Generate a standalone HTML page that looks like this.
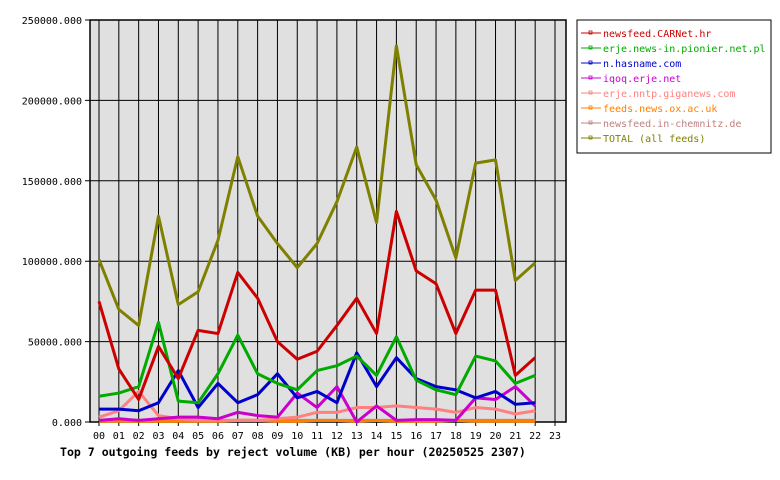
<!DOCTYPE html>
<html><head><meta charset="utf-8"><style>
body{margin:0;background:#fff;}
svg{display:block;font-family:"DejaVu Sans Mono","Liberation Mono",monospace;font-size:10px;}
</style></head><body>
<svg id="c" width="780" height="480"></svg>
<script>
const hours=["00","01","02","03","04","05","06","07","08","09","10","11","12","13","14","15","16","17","18","19","20","21","22","23"];
const yTicks=[0,50000,100000,150000,200000,250000];
const seriesNames=["newsfeed.CARNet.hr","erje.news-in.pionier.net.pl","n.hasname.com","iqoq.erje.net","erje.nntp.giganews.com","feeds.news.ox.ac.uk","newsfeed.in-chemnitz.de","TOTAL (all feeds)"];
const seriesColors=["#cc0000","#00aa00","#0000cc","#cc00cc","#ff8080","#ff8000","#c08080","#808000"];
const carnet=[75,33,14,47,27,57,55,93,77,50,39,44,60,77,55,131,94,86,55,82,82,29,40];
const pionier=[16,18,22,62,13,12,30,54,30,24,20,32,35,41,29,53,26,20,17,41,38,24,29];
const hasname=[8,8,7,12,32,9,24,12,17,30,15,19,12,43,22,40,27,22,20,15,19,11,12];
const iqoq=[1,2,1,2,3,3,2,6,4,3,18,9,22,0,10,1,1.5,1.5,1,15,14,22,10];
const giganews=[3,7,19,4,2,1,1,1,1,2,3,6,6,9,9,10,9,8,6,9,8,5,7];
const oxac=[0.5,0.5,0.5,0.5,0.5,0.5,0.5,1,1,0.5,0.5,1,1,0.5,1,0.5,0.5,0.5,1,0.5,0.5,0.5,0.5];
const chemnitz=[1,1,1,1,1,1,1,1,1,1,1,1,1,1,1,1,1,1,1,1,1,1,1];
const total=[101,70,60,128,73,81,113,165,128,111,96,111,137,171,124,234,160,138,102,161,163,88,99];
const allSeries=[carnet,pionier,hasname,iqoq,giganews,oxac,chemnitz,total];
const NS="http://www.w3.org/2000/svg";
const svg=document.getElementById('c');
const L=90,R=566,T=20,B=422;
const x=i=>99+i*(555-99)/23;
const y=v=>B-(v/250000)*(B-T);
function mk(t,a,p){const e=document.createElementNS(NS,t);for(const k in a)e.setAttribute(k,a[k]);(p||svg).appendChild(e);return e;}
const bg=mk('rect',{x:L,y:T,width:R-L,height:B-T,fill:'#e0e0e0'});


const grid=mk('g',{stroke:'#000','stroke-width':1});


hours.forEach((h,i)=>{mk('line',{x1:x(i),x2:x(i),y1:T,y2:B+4},grid);
 const t=mk('text',{x:x(i),y:439,'text-anchor':'middle',fill:'#000'});t.textContent=h;
 
 });
yTicks.forEach(v=>{mk('line',{x1:L-5,x2:R,y1:y(v),y2:y(v)},grid);
 const t=mk('text',{x:L-8,y:y(v)+4,'text-anchor':'end',fill:'#000'});t.textContent=v.toFixed(3);
 
 });
mk('rect',{x:L,y:T,width:R-L,height:B-T,fill:'none',stroke:'#000','stroke-width':1.5});
for(let s=allSeries.length-1;s>=0;s--){
 const d=allSeries[s];
 const pts=d.map((v,i)=>x(i)+','+y(v*1000)).join(' ');
 const pl=mk('polyline',{points:pts,fill:'none',stroke:seriesColors[s],'stroke-width':3,'stroke-linejoin':'round'});
 
 
}
const title=mk('text',{x:60,y:456,'font-weight':'bold','font-size':'11.55px',fill:'#000'});
title.textContent="Top 7 outgoing feeds by reject volume (KB) per hour (20250525 2307)";


const lg=mk('g',{});


mk('rect',{x:577,y:20,width:194,height:133,fill:'#fff',stroke:'#000','stroke-width':1},lg);
seriesNames.forEach((n,i)=>{const yy=33+i*15;
 mk('line',{x1:581,x2:601,y1:yy,y2:yy,stroke:seriesColors[i],'stroke-width':1},lg);
 mk('rect',{x:589,y:yy-2,width:3,height:3,fill:'none',stroke:seriesColors[i],'stroke-width':0.8},lg);
 const t=mk('text',{x:603,y:yy+4,fill:seriesColors[i]},lg);t.textContent=n;
 
 });
</script>
</body></html>
